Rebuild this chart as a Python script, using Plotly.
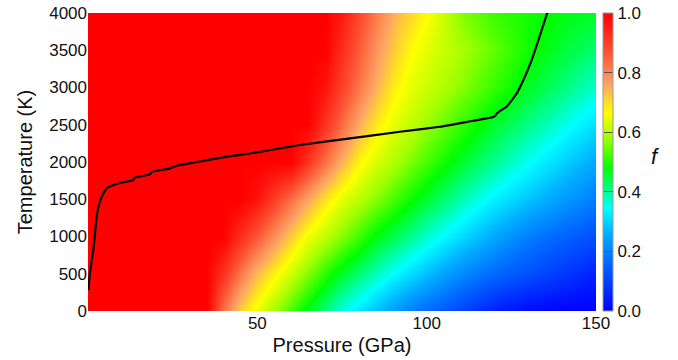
import plotly.graph_objects as go

# Grid of the fraction f (pressure columns, temperature rows)
pressure_gpa = [0, 20, 30, 35, 40, 45, 50, 55, 60, 65, 70, 75, 80, 85, 90, 95, 100, 110, 120, 130, 140, 150]
temperature_k = [0, 500, 1000, 1500, 2000, 2500, 3000, 3500, 4000]

f_T0 = [1, 1, 1, 1, 0.83, 0.717, 0.648, 0.585, 0.523, 0.464, 0.412, 0.360, 0.318, 0.277, 0.237, 0.196, 0.163, 0.106, 0.049, 0.013, 0, 0]
f_T500 = [1, 1, 1, 1, 0.92, 0.82, 0.736, 0.678, 0.619, 0.561, 0.503, 0.457, 0.419, 0.381, 0.343, 0.310, 0.277, 0.211, 0.160, 0.124, 0.087, 0.05]
f_T1000 = [1, 1, 1, 1, 1, 0.929, 0.859, 0.788, 0.717, 0.651, 0.606, 0.561, 0.516, 0.473, 0.439, 0.405, 0.371, 0.309, 0.250, 0.192, 0.153, 0.12]
f_T1500 = [1, 1, 1, 1, 1, 1, 0.972, 0.901, 0.831, 0.76, 0.693, 0.641, 0.603, 0.564, 0.526, 0.488, 0.454, 0.389, 0.331, 0.284, 0.237, 0.19]
f_T2000 = [1, 1, 1, 1, 1, 1, 1, 1, 1, 0.914, 0.829, 0.746, 0.674, 0.631, 0.595, 0.559, 0.523, 0.458, 0.404, 0.35, 0.30, 0.25]
f_T2500 = [1, 1, 1, 1, 1, 1, 1, 1, 1, 1, 0.917, 0.834, 0.753, 0.687, 0.641, 0.609, 0.576, 0.512, 0.456, 0.408, 0.36, 0.31]
f_T3000 = [1, 1, 1, 1, 1, 1, 1, 1, 1, 1, 0.97, 0.895, 0.82, 0.748, 0.685, 0.644, 0.618, 0.565, 0.512, 0.462, 0.416, 0.37]
f_T3500 = [1, 1, 1, 1, 1, 1, 1, 1, 1, 1, 1, 0.927, 0.855, 0.782, 0.723, 0.671, 0.64, 0.59, 0.54, 0.49, 0.453, 0.42]
f_T4000 = [1, 1, 1, 1, 1, 1, 1, 1, 1, 1, 1, 0.958, 0.887, 0.816, 0.752, 0.71, 0.668, 0.564, 0.515, 0.492, 0.473, 0.46]

f_grid = [f_T0, f_T500, f_T1000, f_T1500, f_T2000, f_T2500, f_T3000, f_T3500, f_T4000]

# Black boundary curve
curve_p = [0.1, 0.5, 1.0, 1.57, 2.1, 2.56, 3.2, 4.04, 5.5, 7.5, 10.0, 13.4, 13.6, 14.0, 18.3, 18.6, 18.8,
           24.2, 26.2, 31.1, 41.0, 47.8, 62.6, 77.4, 92.1, 103.9, 106.9, 113.8, 119.7, 120.3, 120.7,
           121.8, 123.6, 126.6, 129.0, 131.0, 133.0, 135.4, 135.7]
curve_t = [280, 480, 650, 818, 1060, 1266, 1420, 1534, 1646, 1691, 1725, 1758, 1780, 1792, 1834, 1852, 1866,
           1915, 1950, 1990, 2071, 2114, 2228, 2317, 2406, 2473, 2496, 2554, 2605, 2625, 2650,
           2690, 2742, 2921, 3144, 3368, 3637, 3972, 4010]

x_ticks = [50, 100, 150]
y_ticks = [0, 500, 1000, 1500, 2000, 2500, 3000, 3500, 4000]
cbar_ticks = [0.0, 0.2, 0.4, 0.6, 0.8, 1.0]

colorscale = [
    [0.0, 'rgb(0,0,255)'],
    [0.17, 'rgb(0,110,255)'],
    [0.26, 'rgb(0,175,255)'],
    [0.345, 'rgb(0,255,255)'],
    [0.48, 'rgb(0,255,0)'],
    [0.58, 'rgb(160,255,0)'],
    [0.665, 'rgb(255,255,0)'],
    [0.76, 'rgb(255,165,100)'],
    [0.87, 'rgb(255,80,50)'],
    [1.0, 'rgb(255,0,0)'],
]

font_family = "Liberation Sans, Arial, Helvetica, sans-serif"

fig = go.Figure()
fig.add_trace(go.Heatmap(
    x=pressure_gpa, y=temperature_k, z=f_grid,
    zmin=0, zmax=1, zsmooth='best', colorscale=colorscale,
    colorbar=dict(
        x=1.013, xanchor='left', xpad=0, y=0.5, yanchor='middle', ypad=0,
        len=1, lenmode='fraction', thickness=10,
        outlinewidth=1, outlinecolor='#999999',
        tickvals=cbar_ticks, tickformat='.1f', ticks='inside', ticklen=9,
        tickcolor='#555555', tickwidth=1,
        tickfont=dict(family=font_family, size=17, color='#111111'),
    ),
    hoverinfo='skip',
))
fig.add_trace(go.Scatter(
    x=curve_p, y=curve_t, mode='lines',
    line=dict(color='black', width=2.2, shape='spline', smoothing=0.4),
    showlegend=False, hoverinfo='skip',
))

fig.add_annotation(
    x=1.13, y=0.52, xref='paper', yref='paper', text='<i>f</i>', showarrow=False,
    font=dict(family=font_family, size=22, color='#111111'),
)

fig.update_layout(
    width=678, height=360,
    margin=dict(l=88, r=82, t=13, b=49, autoexpand=False),
    paper_bgcolor='white', plot_bgcolor='white',
    font=dict(family=font_family, color='#111111'),
    showlegend=False,
    xaxis=dict(
        range=[0, 150], tickvals=x_ticks, ticks='', showgrid=False, zeroline=False,
        showline=False, tickfont=dict(size=17), automargin=False,
        title=dict(text='Pressure (GPa)', font=dict(size=20), standoff=5),
    ),
    yaxis=dict(
        range=[0, 4000], tickvals=y_ticks, ticks='', showgrid=False, zeroline=False,
        showline=False, tickfont=dict(size=17), automargin=False,
        title=dict(text='Temperature (K)', font=dict(size=20), standoff=11),
    ),
)

# remove the default page margin so the figure sits at the window's top-left corner
fig.write_html("out.html", config={"displayModeBar": False},
               post_script="document.body.style.margin='0';")
